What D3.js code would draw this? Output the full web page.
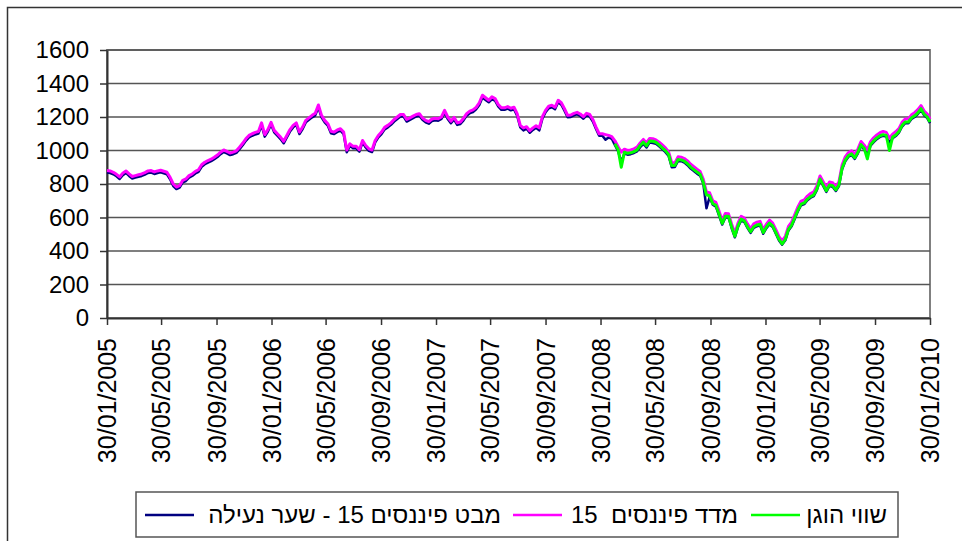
<!DOCTYPE html>
<html>
<head>
<meta charset="utf-8">
<script src="https://cdn.jsdelivr.net/npm/d3@7"></script>
<style>
  body { margin: 0; background: #fff; }
  svg { display: block; font-family: "Liberation Sans", Arial, sans-serif; }
</style>
</head>
<body>
<svg width="962" height="541"></svg>
<script>
// weekly closes, starting 30/01/2005
const startDate = "30/01/2005";
const endDate = "30/01/2010";
const greenStartDate = "02/03/2008";

const tickLabels = ["30/01/2005", "30/05/2005", "30/09/2005", "30/01/2006", "30/05/2006", "30/09/2006",
    "30/01/2007", "30/05/2007", "30/09/2007", "30/01/2008", "30/05/2008", "30/09/2008",
    "30/01/2009", "30/05/2009", "30/09/2009", "30/01/2010"];
const yTicks = [0, 200, 400, 600, 800, 1000, 1200, 1400, 1600];

const seriesNames = ["מבט פיננסים 15 - שער נעילה", "מדד פיננסים  15", "שווי הוגן"];
const seriesColors = ["#000080", "#ff00ff", "#00ff00"];

// מבט פיננסים 15 - שער נעילה
const mivtaValues = [
    868, 865, 858, 846, 830, 852, 866, 848, 833, 838,
    843, 848, 856, 866, 868, 860, 866, 870, 864, 858,
    828, 788, 770, 778, 810, 818, 838, 848, 863, 873,
    903, 918, 928, 936, 948, 961, 978, 991, 983, 973,
    978, 986, 1008, 1031, 1058, 1078, 1088, 1096, 1101, 1150,
    1083, 1113, 1155, 1108, 1088, 1068, 1043, 1078, 1113, 1138,
    1153, 1098, 1128, 1168, 1183, 1198, 1210, 1258, 1198, 1168,
    1148, 1103, 1098, 1111, 1118, 1098, 990, 1028, 1013, 1013,
    993, 1048, 1018, 998, 991, 1048, 1078, 1098, 1126, 1138,
    1153, 1173, 1188, 1203, 1203, 1173, 1183, 1193, 1203, 1208,
    1183, 1168, 1160, 1176, 1180, 1178, 1188, 1226, 1188, 1163,
    1186, 1153, 1158, 1180, 1208, 1223, 1230, 1246, 1272, 1316,
    1302, 1288, 1306, 1298, 1263, 1243, 1243, 1250, 1240, 1246,
    1208, 1138, 1120, 1130, 1106, 1123, 1136, 1120, 1190, 1228,
    1252, 1258, 1246, 1288, 1273, 1238, 1198, 1200, 1210, 1216,
    1206, 1190, 1210, 1203, 1173, 1128, 1088, 1088, 1065, 1078,
    1070, 1032, 996, 932, 982, 975, 978, 985, 995, 1020,
    1040, 1018, 1048, 1045, 1040, 1025, 1008, 990, 968, 900,
    902, 938, 936, 928, 912, 892, 878, 862, 850, 803,
    655, 722, 676, 665, 612, 558, 600, 600, 536, 482,
    543, 583, 573, 538, 508, 538, 548, 553, 503, 536,
    560, 543, 503, 463, 438, 464, 523, 548, 593, 638,
    673, 680, 703, 718, 728, 763, 823, 788, 753, 788,
    783, 758, 788, 888, 936, 963, 973, 950, 983, 1028,
    1006, 978, 1028, 1050, 1068, 1081, 1088, 1083, 1048, 1073,
    1086, 1106, 1143, 1163, 1163, 1188, 1200, 1218, 1243, 1210,
    1193, 1163
];

// מדד פיננסים 15
const indexValues = [
    880, 878, 870, 858, 842, 865, 878, 860, 845, 850,
    855, 860, 868, 878, 880, 872, 878, 882, 876, 870,
    840, 800, 782, 790, 822, 830, 850, 860, 875, 885,
    915, 930, 940, 948, 960, 973, 990, 1003, 995, 985,
    990, 998, 1020, 1043, 1070, 1090, 1100, 1108, 1113, 1165,
    1095, 1125, 1168, 1120, 1100, 1080, 1055, 1090, 1125, 1150,
    1165, 1110, 1140, 1180, 1195, 1210, 1222, 1272, 1210, 1180,
    1160, 1115, 1110, 1123, 1130, 1110, 1003, 1040, 1025, 1025,
    1005, 1060, 1030, 1010, 1003, 1060, 1090, 1110, 1138, 1150,
    1165, 1185, 1200, 1215, 1215, 1185, 1195, 1205, 1215, 1220,
    1195, 1180, 1172, 1188, 1192, 1190, 1200, 1240, 1200, 1175,
    1198, 1165, 1170, 1192, 1220, 1235, 1242, 1258, 1285, 1330,
    1315, 1300, 1320, 1310, 1275, 1255, 1255, 1262, 1252, 1258,
    1220, 1150, 1135, 1142, 1118, 1135, 1148, 1135, 1202, 1240,
    1265, 1270, 1258, 1300, 1285, 1250, 1210, 1212, 1222, 1228,
    1218, 1202, 1222, 1215, 1185, 1140, 1100, 1100, 1095, 1090,
    1083, 1058, 1022, 990, 1008, 1000, 1003, 1010, 1020, 1045,
    1066, 1045, 1072, 1070, 1063, 1050, 1033, 1016, 992, 928,
    926, 962, 960, 952, 938, 918, 903, 888, 875, 828,
    752, 748, 700, 690, 638, 582, 624, 622, 560, 506,
    566, 607, 596, 562, 532, 562, 572, 577, 527, 560,
    584, 566, 527, 486, 461, 488, 547, 573, 618, 663,
    698, 705, 728, 743, 753, 788, 848, 814, 778, 812,
    808, 783, 813, 913, 962, 988, 998, 976, 1008, 1054,
    1032, 1003, 1053, 1076, 1093, 1106, 1114, 1108, 1074, 1098,
    1112, 1131, 1168, 1188, 1189, 1213, 1226, 1244, 1268, 1236,
    1218, 1188
];

// שווי הוגן, from 02/03/2008
const fairValues = [
    1040, 1006, 900, 990, 983, 986, 993, 1004, 1030,
    1050, 1028, 1057, 1055, 1049, 1034, 1016, 999, 976, 910,
    911, 946, 944, 936, 921, 901, 886, 871, 858, 810,
    735, 730, 683, 673, 620, 565, 607, 607, 543, 488,
    550, 590, 580, 545, 515, 545, 555, 560, 510, 543,
    567, 550, 510, 470, 442, 470, 530, 555, 600, 645,
    680, 687, 710, 725, 735, 770, 830, 795, 760, 795,
    790, 765, 795, 895, 943, 970, 980, 957, 990, 1035,
    1013, 950, 1035, 1057, 1075, 1088, 1095, 1090, 1000, 1080,
    1093, 1113, 1150, 1170, 1170, 1195, 1207, 1225, 1250, 1217,
    1200, 1170
];

const svg = d3.select("svg"),
      width = 962,
      height = 541;

const parse = d3.timeParse("%d/%m/%Y");
const t0 = parse(startDate),
      t1 = parse(endDate),
      tg = parse(greenStartDate);

const plot = { left: 107, right: 930, top: 50, bottom: 318 };

const x = d3.scaleTime()
    .domain([t0, t1])
    .range([plot.left, plot.right]);

const y = d3.scaleLinear()
    .domain([0, 1600])
    .range([plot.bottom, plot.top]);

// outer chart frame
svg.append("rect")
    .attr("x", 7.5)
    .attr("y", 7.5)
    .attr("width", 1000)
    .attr("height", 600)
    .attr("fill", "none")
    .attr("stroke", "#333")
    .attr("stroke-width", 1.5);

// plot area border
svg.append("rect")
    .attr("x", plot.left)
    .attr("y", plot.top)
    .attr("width", plot.right - plot.left)
    .attr("height", plot.bottom - plot.top)
    .attr("fill", "none")
    .attr("stroke", "#808080")
    .attr("stroke-width", 2);

// gridlines
svg.append("g")
    .selectAll("line")
    .data(yTicks.filter(d => d > 0))
    .enter().append("line")
    .attr("x1", plot.left)
    .attr("x2", plot.right)
    .attr("y1", d => y(d))
    .attr("y2", d => y(d))
    .attr("stroke", "#555")
    .attr("stroke-width", 1.5);

// y axis
const yAxis = svg.append("g")
    .attr("transform", `translate(${plot.left},0)`)
    .call(d3.axisLeft(y).tickValues(yTicks).tickFormat(d3.format("d"))
        .tickSize(7).tickPadding(11).tickSizeOuter(0));
yAxis.select(".domain").attr("stroke", "#333").attr("stroke-width", 2);
yAxis.selectAll(".tick line").attr("stroke", "#333").attr("stroke-width", 1.5);
yAxis.selectAll("text")
    .attr("font-size", 24)
    .attr("font-family", "Liberation Sans, Arial, sans-serif")
    .attr("fill", "#000");

// x axis
const tickDates = tickLabels.map(parse);
const xAxis = svg.append("g")
    .attr("transform", `translate(0,${plot.bottom})`)
    .call(d3.axisBottom(x).tickValues(tickDates).tickFormat(d3.timeFormat("%d/%m/%Y"))
        .tickSize(7).tickSizeOuter(0));
xAxis.select(".domain").attr("stroke", "#333").attr("stroke-width", 2);
xAxis.selectAll(".tick line").attr("stroke", "#333").attr("stroke-width", 1.5);
xAxis.selectAll("text")
    .attr("font-size", 25)
    .attr("font-family", "Liberation Sans, Arial, sans-serif")
    .attr("fill", "#000")
    .attr("text-anchor", "end")
    .attr("transform", "rotate(-90)")
    .attr("x", -20)
    .attr("y", 0)
    .attr("dy", "0.35em");

// series
const weekly = (start, values) => values.map((v, i) => ({ date: d3.timeDay.offset(start, 7 * i), value: v }));
const series = [
    weekly(t0, mivtaValues),
    weekly(t0, indexValues),
    weekly(tg, fairValues)
];

const line = d3.line()
    .x(d => x(d.date > t1 ? t1 : d.date))
    .y(d => y(d.value));

const widths = [2.5, 3, 3];
svg.append("g")
    .selectAll("path")
    .data(series)
    .enter().append("path")
    .attr("d", line)
    .attr("fill", "none")
    .attr("stroke", (d, i) => seriesColors[i])
    .attr("stroke-width", (d, i) => widths[i])
    .attr("stroke-linejoin", "round");

// legend
const legend = svg.append("g");
legend.append("rect")
    .attr("x", 136)
    .attr("y", 492)
    .attr("width", 762)
    .attr("height", 45)
    .attr("fill", "#fff")
    .attr("stroke", "#555")
    .attr("stroke-width", 1.5);

const keyLeft = [145, 513, 751],
      textRight = [501, 738, 887];

const item = legend.selectAll("g.item")
    .data(seriesNames)
    .enter().append("g")
    .attr("class", "item");

item.append("line")
    .attr("x1", (d, i) => keyLeft[i])
    .attr("x2", (d, i) => keyLeft[i] + 49)
    .attr("y1", 515)
    .attr("y2", 515)
    .attr("stroke", (d, i) => seriesColors[i])
    .attr("stroke-width", 2.5);

item.append("text")
    .attr("x", (d, i) => textRight[i])
    .attr("y", 515)
    .attr("dy", "0.35em")
    .attr("text-anchor", "end")
    .attr("font-size", 24)
    .attr("fill", "#000")
    .style("white-space", "pre")
    .text(d => d);
</script>
</body>
</html>
